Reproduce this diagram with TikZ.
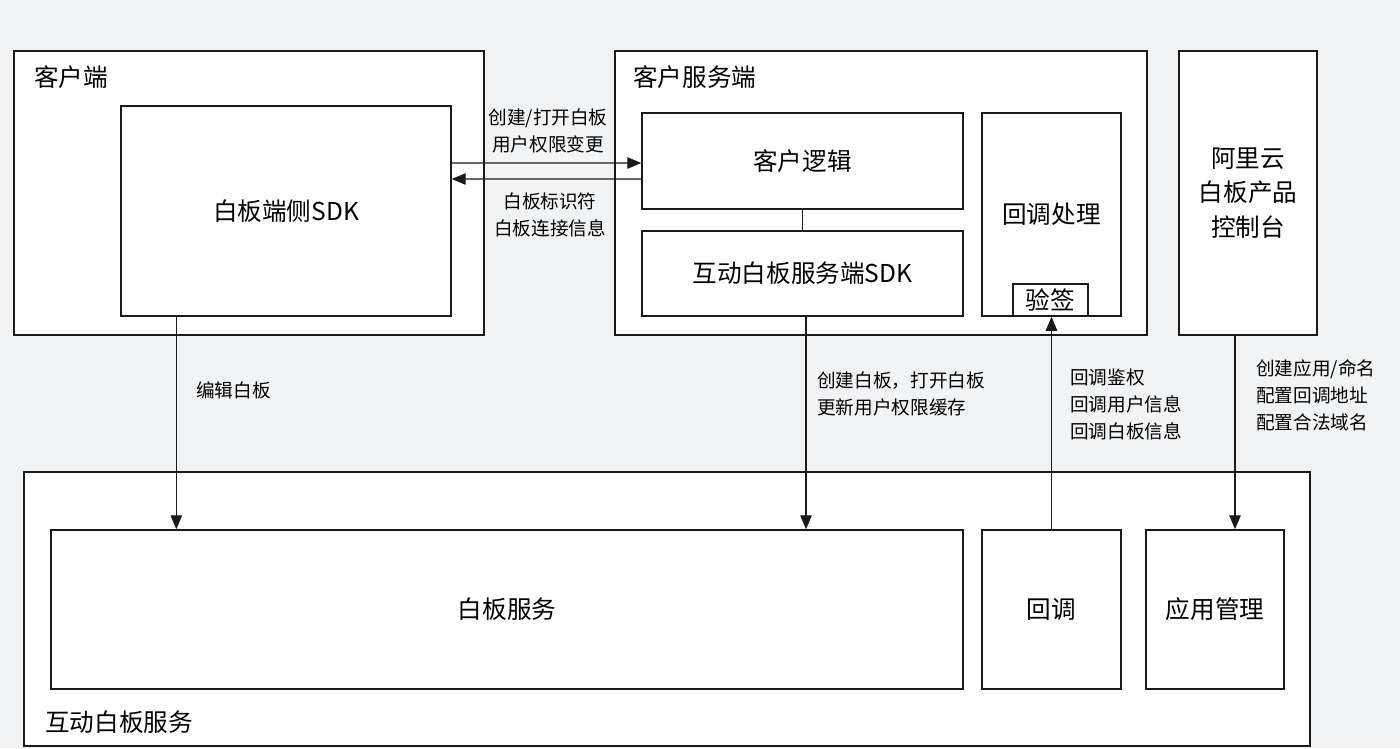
\documentclass[tikz,border=0pt]{standalone}
\usepackage{fontspec}
\setmainfont{Noto Sans CJK SC}
\usepackage{tikz}
\usetikzlibrary{arrows.meta,positioning,calc}
\definecolor{pagebg}{HTML}{F2F3F5}
\definecolor{linegray}{HTML}{1A1A1A}
\tikzset{
  box/.style={rectangle,draw=linegray,fill=white,line width=0.8pt,inner sep=0pt,
    font=\fontsize{14}{17}\selectfont,align=center},
  title/.style={anchor=west,inner sep=0pt,font=\fontsize{14}{17}\selectfont},
  flowarrow/.style={-{Triangle[length=8pt,width=6.5pt]},line width=0.8pt,draw=linegray},
  arrlabel/.style={inner sep=0pt,font=\fontsize{10.6}{15.4}\selectfont},
}

\begin{document}
\begin{tikzpicture}[x=0.02cm,y=-0.02cm]
  \fill[pagebg] (0,0) rectangle (1400,748);
  \useasboundingbox (0,0) rectangle (1400,748);
  % client side
  \node[box,minimum width=9.4cm,minimum height=5.68cm] (client) at (249,193) {};
  \node[title] (clientt) at (34,77) {客户端};
  \node[box,minimum width=6.6cm,minimum height=4.2cm] (sdk) at (286,211) {白板端侧SDK};
  % customer server
  \node[box,minimum width=10.64cm,minimum height=5.68cm] (server) at (881,193) {};
  \node[title] (servert) at (633,77) {客户服务端};
  \node[box,minimum width=6.42cm,minimum height=1.92cm] (logic) at (802.5,161) {客户逻辑};
  \node[box,minimum width=6.42cm,minimum height=1.7cm] (srvsdk) at (802.5,273.5) {互动白板服务端SDK};
  \node[box,minimum width=2.78cm,minimum height=4.06cm] (cbproc) at (1051.5,214.5) {回调处理};
  \node[box,minimum width=1.5cm,minimum height=0.64cm] (verify) at (1050.5,300) {验签};
  \draw[line width=0.8pt,draw=linegray] (logic) -- (srvsdk);
  % console
  \node[box,minimum width=2.76cm,minimum height=5.68cm,
    font=\fontsize{14}{19.6}\selectfont] (console) at (1248,193) {阿里云\\白板产品\\控制台};
  % interactive whiteboard service
  \node[box,minimum width=25.72cm,minimum height=5.48cm] (iws) at (667,609) {};
  \node[title] (iwst) at (45,722) {互动白板服务};
  \node[box,minimum width=18.24cm,minimum height=3.18cm] (wbsvc) at (507,609.5) {白板服务};
  \node[box,minimum width=2.78cm,minimum height=3.18cm] (callback) at (1051.5,609.5) {回调};
  \node[box,minimum width=2.76cm,minimum height=3.18cm] (appmgmt) at (1215,609.5) {应用管理};
  % arrows
  \draw[flowarrow] (sdk.east |- 0,163) -- ([yshift=-0.04cm]logic.west);
  \draw[flowarrow] ([yshift=-0.36cm]logic.west) -- (sdk.east |- 0,179);
  \node[arrlabel,align=center] (reqlbl) at (548,130.5) {创建/打开白板\\用户权限变更};
  \node[arrlabel,align=center] (resplbl) at (550,214.5) {白板标识符\\白板连接信息};
  \draw[flowarrow] ([xshift=1.12cm]sdk.south west) -- ([xshift=1.12cm]sdk.south west |- wbsvc.north);
  \node[arrlabel,anchor=west] (editlbl) at (196,390) {编辑白板};
  \draw[flowarrow] ([xshift=0.07cm]srvsdk.south) -- ([xshift=0.07cm]srvsdk.south |- wbsvc.north);
  \node[arrlabel,anchor=west,align=left] (srvlbl) at (817,393.5) {创建白板，打开白板\\更新用户权限缓存};
  \draw[flowarrow] (callback.north) -- (callback.north |- verify.south);
  \node[arrlabel,anchor=west,align=left] (cblbl) at (1070,404) {回调鉴权\\回调用户信息\\回调白板信息};
  \draw[flowarrow] ([xshift=-0.26cm]console.south) -- ([xshift=-0.26cm]console.south |- appmgmt.north);
  \node[arrlabel,anchor=west,align=left] (conlbl) at (1256,395) {创建应用/命名\\配置回调地址\\配置合法域名};
\end{tikzpicture}
\end{document}
